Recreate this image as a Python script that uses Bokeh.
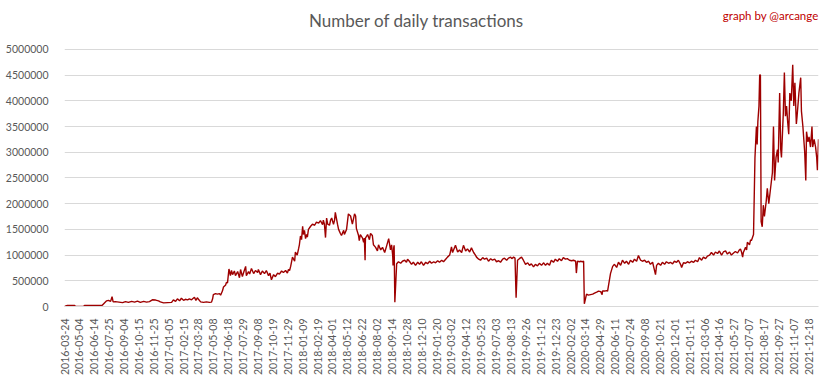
from bokeh.plotting import figure
from bokeh.models import Range1d, FixedTicker, NumeralTickFormatter, Label, ColumnDataSource
from bokeh.embed import file_html
from bokeh.resources import INLINE
from math import pi

# category labels shown on the x axis (every 41st category)
tick_labels = [
    "2016-03-24", "2016-05-04", "2016-06-14", "2016-07-25", "2016-09-04", "2016-10-15", "2016-11-25",
    "2017-01-05", "2017-02-15", "2017-03-28", "2017-05-08", "2017-06-18", "2017-07-29", "2017-09-08",
    "2017-10-19", "2017-11-29", "2018-01-09", "2018-02-19", "2018-04-01", "2018-05-12", "2018-06-22",
    "2018-08-02", "2018-09-14", "2018-10-28", "2018-12-10", "2019-01-20", "2019-03-02", "2019-04-12",
    "2019-05-23", "2019-07-03", "2019-08-13", "2019-09-26", "2019-11-12", "2019-12-23", "2020-02-02",
    "2020-03-14", "2020-04-29", "2020-06-11", "2020-07-24", "2020-09-08", "2020-10-21", "2020-12-01",
    "2021-01-11", "2021-03-06", "2021-04-16", "2021-05-27", "2021-07-07", "2021-08-17", "2021-09-27",
    "2021-11-07", "2021-12-18",
]
label_step = 41
n_categories = 2078

# day index (category position) and number of daily transactions (thousands)
day_index = [
    0, 8, 28, 30, 52, 55, 104, 110, 116, 121, 127, 131, 134, 140, 160, 168, 176, 185, 193, 201, 209, 218, 226, 234,
    242, 251, 259, 264, 273, 284, 295, 300, 306, 311, 317, 322, 328, 333, 339, 344, 350, 353, 358, 362, 366, 369,
    375, 383, 391, 399, 405, 408, 410, 416, 421, 427, 430, 435, 438, 444, 446, 449, 453, 457, 460, 463, 468, 471,
    477, 482, 485, 490, 493, 499, 501, 507, 510, 515, 521, 526, 532, 534, 540, 545, 551, 556, 562, 566, 570, 576,
    581, 587, 592, 598, 603, 609, 614, 617, 620, 623, 628, 634, 636, 641, 645, 647, 650, 653, 656, 658, 661, 664,
    667, 669, 672, 678, 683, 689, 694, 700, 705, 711, 713, 716, 719, 722, 725, 730, 733, 736, 741, 744, 746, 752,
    755, 760, 763, 769, 771, 777, 782, 788, 793, 799, 802, 804, 810, 812, 815, 821, 824, 826, 828, 829, 835, 840,
    843, 848, 851, 857, 862, 865, 871, 876, 882, 887, 893, 898, 901, 904, 905, 907, 908, 910, 915, 920, 926, 931,
    937, 942, 945, 950, 956, 961, 967, 973, 978, 983, 989, 995, 1000, 1006, 1011, 1017, 1022, 1028, 1033, 1039,
    1044, 1050, 1055, 1061, 1066, 1069, 1077, 1083, 1088, 1094, 1099, 1105, 1110, 1116, 1121, 1127, 1132, 1135,
    1141, 1146, 1152, 1157, 1163, 1168, 1174, 1179, 1185, 1190, 1196, 1201, 1207, 1212, 1218, 1223, 1229, 1232,
    1237, 1241, 1244, 1248, 1253, 1259, 1264, 1270, 1276, 1281, 1286, 1292, 1297, 1303, 1308, 1314, 1320, 1325,
    1330, 1336, 1341, 1347, 1352, 1358, 1363, 1369, 1374, 1380, 1385, 1391, 1397, 1402, 1408, 1410, 1413, 1419,
    1421, 1427, 1430, 1432, 1438, 1443, 1449, 1455, 1460, 1466, 1471, 1477, 1481, 1482, 1488, 1493, 1496, 1504,
    1510, 1515, 1521, 1526, 1532, 1537, 1543, 1548, 1554, 1559, 1565, 1570, 1576, 1581, 1587, 1592, 1598, 1603,
    1609, 1614, 1620, 1628, 1631, 1636, 1642, 1647, 1653, 1658, 1664, 1669, 1675, 1680, 1686, 1691, 1697, 1700,
    1705, 1711, 1716, 1722, 1727, 1733, 1738, 1744, 1749, 1755, 1760, 1766, 1771, 1777, 1782, 1788, 1793, 1799,
    1804, 1810, 1815, 1821, 1826, 1832, 1837, 1843, 1848, 1854, 1859, 1862, 1865, 1868, 1870, 1876, 1879, 1881,
    1887, 1890, 1892, 1898, 1902, 1906, 1908, 1910, 1913, 1915, 1917, 1919, 1922, 1925, 1928, 1933, 1936, 1940,
    1945, 1950, 1953, 1956, 1960, 1964, 1966, 1970, 1973, 1975, 1980, 1983, 1986, 1989, 1992, 1995, 1998, 2002,
    2006, 2009, 2012, 2016, 2018, 2023, 2028, 2030, 2034, 2039, 2042, 2044, 2048, 2051, 2055, 2059, 2061, 2065,
    2069, 2072, 2074, 2077,
]
transactions_k = [
    0, 20, 20, 0, 0, 20, 25, 70, 110, 120, 100, 190, 90, 95, 75, 95, 80, 100, 85, 105, 80, 100, 85, 95,
    130, 125, 110, 90, 70, 75, 80, 130, 100, 150, 110, 160, 120, 140, 130, 150, 130, 150, 180, 120, 170, 140,
    90, 80, 90, 80, 85, 150, 230, 250, 240, 250, 220, 300, 380, 420, 470, 460, 730, 600, 700, 620, 690, 600,
    680, 560, 720, 580, 650, 780, 600, 680, 630, 740, 640, 700, 660, 720, 620, 690, 640, 700, 600, 650, 520, 620,
    580, 650, 630, 690, 660, 700, 650, 720, 700, 780, 960, 880, 1060, 1000, 1130, 1200, 1370, 1300, 1560, 1400, 1480, 1320,
    1400, 1350, 1500, 1560, 1600, 1580, 1640, 1620, 1670, 1590, 1680, 1600, 1340, 1720, 1600, 1580, 1680, 1720, 1600, 1680, 1830, 1600,
    1500, 1420, 1380, 1480, 1400, 1500, 1800, 1760, 1600, 1800, 1760, 1520, 1380, 1280, 1400, 1330, 1250, 1330, 900, 1330, 1400, 1300,
    1420, 1380, 1200, 1150, 1080, 1200, 1100, 1150, 1050, 1170, 1320, 1100, 1200, 1000, 800, 1150, 1190, 84, 830, 870, 840, 880,
    900, 860, 920, 880, 820, 860, 800, 860, 820, 870, 800, 860, 830, 880, 840, 870, 850, 890, 860, 900,
    870, 920, 960, 1000, 1160, 1050, 1190, 1060, 1100, 1050, 1190, 1080, 1120, 1060, 1140, 1050, 1000, 960,
    920, 900, 950, 920, 940, 880, 930, 900, 920, 870, 890, 860, 920, 940, 900, 940, 960, 930,
    960, 940, 170, 900, 930, 960, 900, 820, 850, 800, 830, 770, 820, 790, 840, 800, 850, 800,
    840, 800, 900, 860, 920, 880, 930, 890, 950, 920, 930, 900, 890, 900, 880, 650, 880, 870,
    880, 870, 880, 52, 240, 220, 230, 240, 260, 280, 300, 290, 230, 300, 300, 310, 300, 640,
    780, 820, 760, 860, 800, 900, 840, 880, 820, 900, 860, 920, 880, 990, 900, 880, 900, 860,
    880, 820, 860, 620, 800, 840, 800, 860, 820, 870, 840, 860, 830, 880, 860, 900, 820, 760,
    850, 840, 870, 850, 880, 860, 900, 870, 950, 900, 960, 930, 980, 1000, 1050, 1000, 1060, 1030,
    1080, 1000, 1060, 1080, 1020, 1060, 1000, 1040, 1070, 1040, 1100, 1120, 1060, 960, 1050, 1150, 1100, 1250,
    1200, 1300, 1280, 1400, 2900, 3500, 3150, 3600, 3900, 4500, 4500, 1650, 1550, 1970, 1750, 2050, 2300, 2000,
    2300, 2600, 3500, 2450, 2900, 3050, 2800, 4150, 3050, 2900, 3750, 4550, 3700, 3900, 3600, 3350, 4150, 4000,
    4700, 3900, 4350, 3550, 3700, 4150, 4450, 3800, 3500, 3000, 2450, 3400, 3200, 3300, 3100, 3500, 3100, 3250,
    3100, 2900, 2650, 3250,
]

y_ticks = [0, 500000, 1000000, 1500000, 2000000, 2500000, 3000000, 3500000, 4000000, 4500000, 5000000]
y_top = 5950000  # headroom above the top gridline for the titles

source = ColumnDataSource(data=dict(x=day_index, y=[v * 1000 for v in transactions_k]))

p = figure(
    frame_width=754, frame_height=306,
    output_backend="svg", toolbar_location=None,
    x_range=Range1d(0, n_categories - 1), y_range=Range1d(0, y_top),
    min_border_left=64, min_border_right=15, min_border_top=0, min_border_bottom=73,
)
p.outline_line_color = None
p.background_fill_color = "white"
p.border_fill_color = "white"

p.line("x", "y", source=source, line_color="#9E0000", line_width=1.4)

tick_pos = [i * label_step for i in range(len(tick_labels))]
p.xaxis.ticker = FixedTicker(ticks=tick_pos)
p.xaxis.major_label_overrides = {pos: lab for pos, lab in zip(tick_pos, tick_labels)}
p.xaxis.major_label_orientation = pi / 2
p.xaxis.axis_line_color = "#D9D9D9"
p.xaxis.major_tick_line_color = None
p.xaxis.minor_tick_line_color = None
p.xaxis.major_label_text_font = "Lato"
p.xaxis.major_label_text_font_size = "10.5px"
p.xaxis.major_label_text_color = "#595959"
p.xaxis.major_label_standoff = 6

p.yaxis.ticker = FixedTicker(ticks=y_ticks)
p.yaxis.formatter = NumeralTickFormatter(format="0")
p.yaxis.axis_line_color = None
p.yaxis.major_tick_line_color = None
p.yaxis.minor_tick_line_color = None
p.yaxis.major_label_text_font = "Lato"
p.yaxis.major_label_text_font_size = "10.5px"
p.yaxis.major_label_text_color = "#595959"
p.yaxis.major_label_standoff = 10

p.xgrid.grid_line_color = None
p.ygrid.grid_line_color = "#D9D9D9"
p.ygrid.grid_line_width = 1

title = Label(x=970, y=5560000, text="Number of daily transactions", text_align="center",
              text_baseline="middle", text_font="Lato", text_font_size="17px", text_color="#595959")
credit = Label(x=n_categories - 1, y=5660000, text="graph by @arcange", text_align="right",
               text_baseline="middle", text_font="Lato", text_font_size="11.5px", text_color="#C00000")
p.add_layout(title)
p.add_layout(credit)

open("out.html", "w").write(file_html(p, INLINE))
